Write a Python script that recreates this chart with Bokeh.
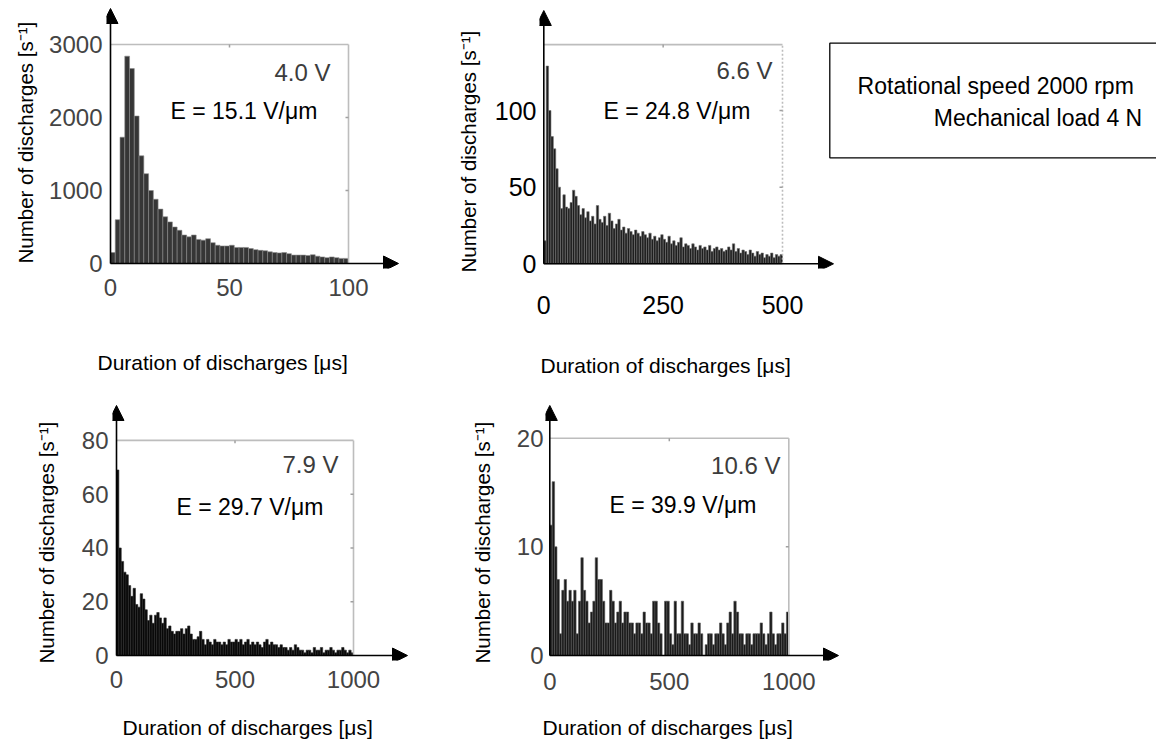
import numpy as np
from bokeh.plotting import figure
from bokeh.models import Range1d, FixedTicker, Label, Arrow, NormalHead, Title
from bokeh.layouts import column, row
from bokeh.embed import file_html
from bokeh.resources import INLINE

FONT = "Liberation Sans"

# ---------------- data ----------------
x_title = "Duration of discharges [μs]"
y_title = "Number of discharges [s⁻¹]"
box_lines = ["Rotational speed 2000 rpm", "Mechanical load 4 N"]

p1_bin = 2
p1_counts = [150, 600, 1730, 2840, 2670, 2020, 1475, 1230, 1000, 880,
             745, 640, 570, 500, 455, 390, 365, 390, 330, 320,
             340, 285, 250, 240, 240, 250, 220, 220, 220, 205,
             190, 180, 175, 160, 150, 145, 150, 135, 115, 115,
             115, 110, 120, 100, 90, 80, 90, 80, 70, 70]
p1_xticks = [0, 50, 100]
p1_yticks = [0, 1000, 2000, 3000]
p1_xmax, p1_ymax = 100, 3000
p1_volt, p1_field = "4.0 V", "E = 15.1 V/μm"

p2_bin = 5
p2_counts = [15, 129, 100, 83, 75, 62, 50, 36, 45, 37,
             36, 40, 48, 44, 38, 32, 36, 30, 34, 28,
             31, 26, 38, 29, 27, 31, 25, 33, 28, 23,
             26, 29, 22, 24, 20, 23, 21, 19, 22, 20,
             18, 21, 19, 17, 20, 16, 18, 15, 17, 19,
             16, 14, 18, 13, 15, 12, 14, 17, 11, 13,
             12, 10, 13, 11, 9, 12, 10, 11, 9, 12,
             8, 10, 11, 9, 10, 8, 9, 11, 9, 13,
             8, 10, 7, 9, 8, 6, 9, 7, 5, 8,
             6, 7, 4, 6, 5, 7, 4, 6, 5, 6]
p2_xticks = [0, 250, 500]
p2_yticks = [0, 50, 100]
p2_xmax, p2_ymax = 500, 143
p2_volt, p2_field = "6.6 V", "E = 24.8 V/μm"

p3_bin = 10
p3_counts = [69, 40, 35, 31, 30, 26, 22, 25, 19, 18,
             23, 21, 17, 13, 15, 12, 15, 16, 14, 12,
             14, 10, 11, 9, 8, 9, 9, 10, 8, 10,
             11, 8, 6, 6, 7, 9, 6, 4, 6, 5,
             4, 6, 5, 5, 4, 5, 4, 6, 5, 5,
             6, 5, 6, 4, 5, 6, 4, 5, 4, 5,
             4, 3, 5, 6, 4, 5, 4, 4, 3, 4,
             3, 3, 2, 3, 2, 4, 3, 2, 2, 1,
             2, 2, 1, 3, 2, 2, 3, 1, 2, 2,
             3, 2, 1, 2, 2, 3, 2, 1, 2, 1]
p3_xticks = [0, 500, 1000]
p3_yticks = [0, 20, 40, 60, 80]
p3_xmax, p3_ymax = 1000, 80
p3_volt, p3_field = "7.9 V", "E = 29.7 V/μm"

p4_bin = 10
p4_counts = [12, 16, 10, 7, 2, 6, 7, 5, 6, 5,
             6, 2, 5, 9, 6, 5, 3, 4, 5, 9,
             7, 7, 5, 3, 3, 6, 5, 3, 4, 5,
             3, 4, 4, 3, 3, 2, 3, 3, 2, 4,
             3, 3, 2, 5, 5, 3, 2, 0, 5, 5,
             2, 1, 5, 2, 2, 5, 2, 2, 1, 3,
             2, 2, 3, 2, 0, 1, 2, 2, 1, 2,
             2, 3, 2, 1, 3, 4, 2, 5, 4, 2,
             2, 1, 2, 2, 1, 2, 2, 2, 3, 2,
             1, 2, 4, 2, 1, 2, 2, 3, 2, 4]
p4_xticks = [0, 500, 1000]
p4_yticks = [0, 10, 20]
p4_xmax, p4_ymax = 1000, 20
p4_volt, p4_field = "10.6 V", "E = 39.9 V/μm"


# ---------------- layout helper ----------------
def make_panel(fig_origin, fig_size, frame, xmap, ymap, counts, bin_w, xmax, ymax,
               xticks, yticks, arrow_tips, volt, field, volt_pos, field_pos,
               xtitle_off, xtitle_gap, ytitle_off, ytitle_standoff,
               tick_size, tick_color, x_standoff, y_standoff,
               bar_fill, bar_line, right_dash="solid"):
    fx, fy = fig_origin
    fw, fh = fig_size
    L, T, R, B = frame
    px0, pxs = xmap
    py0, pys = ymap

    def dx(X):
        return (X - px0) / pxs

    def dy(Y):
        return (py0 - Y) / pys

    p = figure(width=fw, height=fh,
               x_range=Range1d(dx(L), dx(R)), y_range=Range1d(dy(B), dy(T)),
               output_backend="svg", toolbar_location=None,
               min_border_left=L - fx, min_border_right=fx + fw - R,
               min_border_top=T - fy, min_border_bottom=fy + fh - B)
    p.outline_line_color = None
    p.grid.grid_line_color = None

    for ax, ticks, so in ((p.xaxis, xticks, x_standoff), (p.yaxis, yticks, y_standoff)):
        ax.ticker = FixedTicker(ticks=ticks)
        ax.axis_line_color = None
        ax.major_tick_line_color = None
        ax.minor_tick_line_color = None
        ax.major_tick_in = 0
        ax.major_tick_out = 0
        ax.major_label_standoff = so
        ax.major_label_text_font = FONT
        ax.major_label_text_font_size = tick_size
        ax.major_label_text_color = tick_color

    edges = np.arange(len(counts) + 1) * bin_w
    p.quad(left=edges[:-1], right=edges[1:], bottom=0, top=counts,
           fill_color=bar_fill, line_color=bar_line, line_width=0.6)

    # grey box (top and right sides) with small inward ticks
    p.line([0, xmax], [ymax, ymax], line_color="#bdbdbd", line_width=1.6)
    p.line([xmax, xmax], [0, ymax], line_color="#bdbdbd", line_width=1.6, line_dash=right_dash)
    inner_x = [t for t in xticks if 0 < t < xmax]
    inner_y = [t for t in yticks if 0 < t < ymax]
    tick_len = 3.0
    p.segment(x0=inner_x, y0=[ymax] * len(inner_x), x1=inner_x,
              y1=[ymax - tick_len / pys] * len(inner_x), line_color="#a0a0a0", line_width=1.5)
    p.segment(x0=[xmax] * len(inner_y), y0=inner_y, x1=[xmax - tick_len / pxs] * len(inner_y),
              y1=inner_y, line_color="#a0a0a0", line_width=1.5)

    # axis arrows
    (ytipx, ytipy), (xtipx, xtipy) = arrow_tips
    head = dict(size=15, fill_color="black", line_color="black", line_width=1)
    p.add_layout(Arrow(end=NormalHead(**head), x_start=0, y_start=0, x_end=0, y_end=dy(ytipy),
                       line_color="black", line_width=1.6))
    p.add_layout(Arrow(end=NormalHead(**head), x_start=0, y_start=0, x_end=dx(xtipx), y_end=0,
                       line_color="black", line_width=1.6))

    p.add_layout(Label(x=dx(volt_pos[0]), y=dy(volt_pos[1]), text=volt, text_align="right",
                       text_baseline="middle", text_font=FONT, text_font_size="24px",
                       text_color="#3c3c3c"))
    p.add_layout(Label(x=dx(field_pos[0]), y=dy(field_pos[1]), text=field, text_align="left",
                       text_baseline="middle", text_font=FONT, text_font_size="23px",
                       text_color="black"))

    # spacer between tick labels and the x title, then the x title
    p.add_layout(Title(text=" ", text_font_size="1px", standoff=xtitle_gap), "below")
    p.add_layout(Title(text=x_title, align="left", offset=xtitle_off, standoff=0,
                       text_font=FONT, text_font_size="21px", text_font_style="normal",
                       text_color="black"), "below")
    p.add_layout(Title(text=y_title, align="left", offset=ytitle_off, standoff=ytitle_standoff,
                       text_font=FONT, text_font_size="20.5px", text_font_style="normal",
                       text_color="black"), "left")
    return p, dx, dy


p1, _, _ = make_panel((0, 0), (430, 395), (106, 4, 404, 268), (110, 2.38), (263, 0.073),
                      p1_counts, p1_bin, p1_xmax, p1_ymax, p1_xticks, p1_yticks,
                      ((110, 8), (398, 263)), p1_volt, p1_field, (330, 72), (170, 110),
                      -9, 47, 5, 20, "24px", "#444444", 10, 4, "#363636", "#8a8a8a")

p2, dx2, dy2 = make_panel((430, 0), (726, 395), (539, 4, 1156, 268), (543.3, 0.4774), (263.3, 1.533),
                          p2_counts, p2_bin, p2_xmax, p2_ymax, p2_xticks, p2_yticks,
                          ((543.3, 10), (833, 263.3)), p2_volt, p2_field, (772, 70), (603, 110),
                          1, 32, -4, 24, "25px", "black", 27, 3, "#1e1e1e", "#707070",
                          right_dash="2 2")

# information box in the upper-right area
p2.quad(left=dx2(829.3), right=dx2(1200), top=dy2(42.7), bottom=dy2(157.3),
        fill_color=None, line_color="black", line_width=1.3)
p2.add_layout(Label(x=dx2(1133.3), y=dy2(85), text=box_lines[0], text_align="right",
                    text_baseline="middle", text_font=FONT, text_font_size="23px", text_color="black"))
p2.add_layout(Label(x=dx2(1141.7), y=dy2(117.3), text=box_lines[1], text_align="right",
                    text_baseline="middle", text_font=FONT, text_font_size="23px", text_color="black"))

p3, _, _ = make_panel((0, 395), (430, 350), (112, 398, 412, 660), (116, 0.237), (655, 2.71),
                      p3_counts, p3_bin, p3_xmax, p3_ymax, p3_xticks, p3_yticks,
                      ((116, 403), (407, 656)), p3_volt, p3_field, (338, 462), (176, 505),
                      10, 20, -3, 42, "24px", "#444444", 10, 4, "#080808", "#2a2a2a")

p4, _, _ = make_panel((430, 395), (420, 350), (545, 400, 843, 662), (549.3, 0.239), (657, 10.95),
                      p4_counts, p4_bin, p4_xmax, p4_ymax, p4_xticks, p4_yticks,
                      ((549.3, 405), (838, 657)), p4_volt, p4_field, (780, 465), (609, 505),
                      -3, 18, -3, 40, "24px", "#444444", 12, 2, "#1a1a1a", "#555555")

layout = column(row(p1, p2, spacing=0), row(p3, p4, spacing=0), spacing=0)
open("out.html", "w").write(file_html(layout, INLINE))
